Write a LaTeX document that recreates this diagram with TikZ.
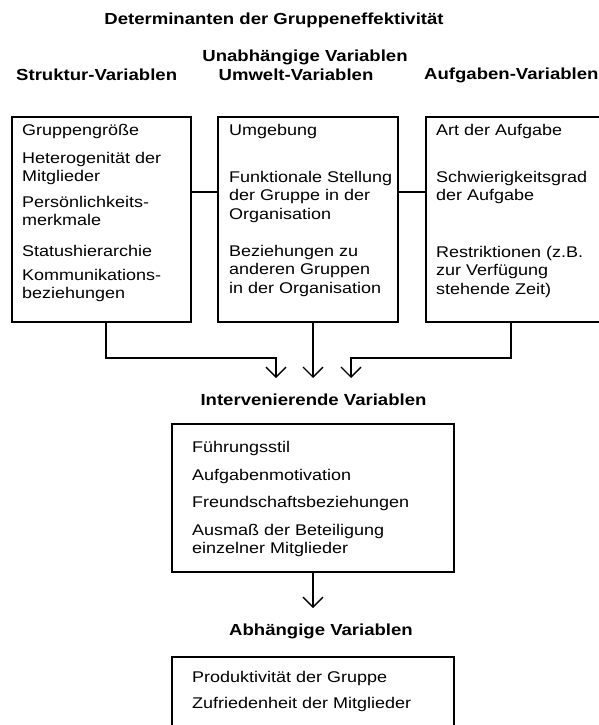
\documentclass[tikz,border=0pt]{standalone}
\usepackage{fontspec}
\setmainfont{Liberation Sans}[FakeStretch=1.16]
\usetikzlibrary{arrows.meta}

\newcommand{\itemlines}[1]{\begin{tabular}[t]{@{}l@{}}#1\end{tabular}}

\tikzset{
  bodytext/.style={anchor=base west, inner sep=0pt, font=\fontsize{15.5}{18.5}\selectfont},
  headtext/.style={anchor=base, inner sep=0pt, font=\fontsize{16}{18}\selectfont\bfseries},
  varbox/.style={draw, line width=1.3pt, inner sep=0pt, minimum width=#1},
  link/.style={line width=1.3pt},
  flow/.style={line width=1.3pt, -{Straight Barb[length=10pt, width=20pt, line width=1.3pt]}},
}

\begin{document}
\begin{tikzpicture}[x=1pt, y=-1pt]
\useasboundingbox (0,0) rectangle (599,725);
\clip (0,0) rectangle (599,725);

% headings
\node[headtext] (title) at (274,25) {Determinanten der Gruppeneffektivität};
\node[headtext] (unab) at (305,62) {Unabhängige Variablen};
\node[headtext] (umwelt) at (296,80) {Umwelt-Variablen};
\node[headtext, anchor=base west] (struktur) at (16,80) {Struktur-Variablen};
\node[headtext, anchor=base west] (aufgaben) at (424,79) {Aufgaben-Variablen};
\node[headtext] (interv) at (313.5,405) {Intervenierende Variablen};
\node[headtext] (abh) at (321,635) {Abhängige Variablen};

% boxes
\node[varbox=179pt, minimum height=205pt] (box1) at (101.5,219.5) {};
\node[varbox=180pt, minimum height=205pt] (box2) at (308,219.5) {};
\node[varbox=200pt, minimum height=205pt] (box3) at (526,219.5) {};
\node[varbox=282pt, minimum height=148pt] (box4) at (313,498) {};
\node[varbox=282pt, minimum height=100pt] (box5) at (313,707) {};

% structure variables
\node[bodytext] (s1) at (22,135) {Gruppengröße};
\node[bodytext] (s2) at (22,163) {\itemlines{Heterogenität der\\Mitglieder}};
\node[bodytext] (s3) at (22,207) {\itemlines{Persönlichkeits-\\merkmale}};
\node[bodytext] (s4) at (22,256) {Statushierarchie};
\node[bodytext] (s5) at (22,280) {\itemlines{Kommunikations-\\beziehungen}};

% environment variables
\node[bodytext] (u1) at (229,135) {Umgebung};
\node[bodytext] (u2) at (229,182) {\itemlines{Funktionale Stellung\\der Gruppe in der\\Organisation}};
\node[bodytext] (u3) at (229,256) {\itemlines{Beziehungen zu\\anderen Gruppen\\in der Organisation}};

% task variables
\node[bodytext] (a1) at (436,135) {Art der Aufgabe};
\node[bodytext] (a2) at (436,182) {\itemlines{Schwierigkeitsgrad\\der Aufgabe}};
\node[bodytext] (a3) at (436,257) {\itemlines{Restriktionen (z.B.\\zur Verfügung\\stehende Zeit)}};

% intervening variables
\node[bodytext] (i1) at (192,452) {Führungsstil};
\node[bodytext] (i2) at (192,480) {Aufgabenmotivation};
\node[bodytext] (i3) at (192,507) {Freundschaftsbeziehungen};
\node[bodytext] (i4) at (192,535) {\itemlines{Ausmaß der Beteiligung\\einzelner Mitglieder}};

% dependent variables
\node[bodytext] (d1) at (192,682) {Produktivität der Gruppe};
\node[bodytext] (d2) at (192,708) {Zufriedenheit der Mitglieder};

% horizontal links between the independent-variable boxes
\coordinate (row) at (0,192);
\draw[link] (box1.east |- row) -- (box2.west |- row);
\draw[link] (box2.east |- row) -- (box3.west |- row);

% converging arrows
\coordinate (leftdrop) at (106,0);
\coordinate (leftbend) at (276,358);
\coordinate (lefttip) at (276,378);
\coordinate (middrop) at (313,0);
\coordinate (midtip) at (313,378);
\coordinate (rightdrop) at (511,0);
\coordinate (rightbend) at (351,358);
\coordinate (righttip) at (351,378);
\draw[flow] (box1.south -| leftdrop) |- (leftbend) -- (lefttip);
\draw[flow] (box2.south -| middrop) -- (midtip);
\draw[flow] (box3.south -| rightdrop) |- (rightbend) -- (righttip);

% arrow to dependent variables
\coordinate (lowtip) at (313,608);
\draw[flow] (box4.south) -- (lowtip);
\end{tikzpicture}
\end{document}
